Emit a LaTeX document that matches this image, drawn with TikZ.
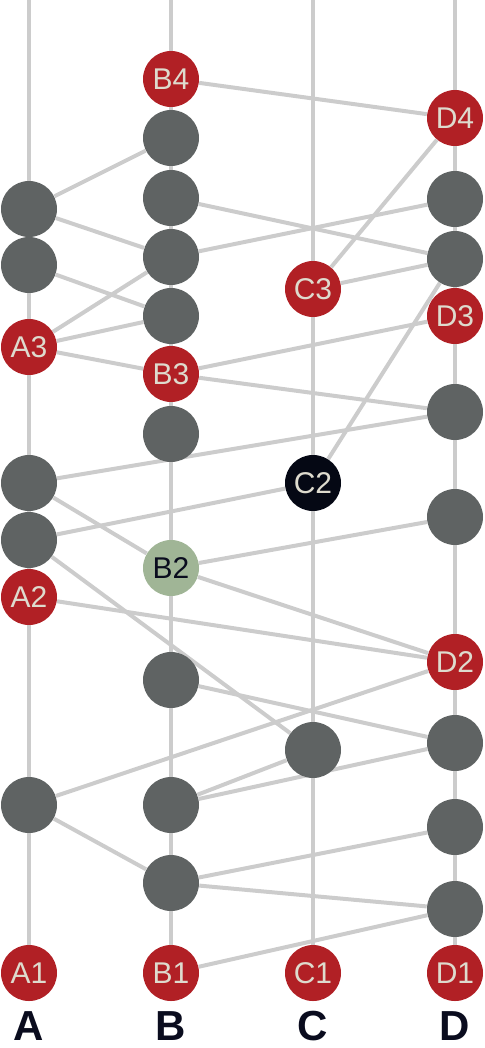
\documentclass[tikz,border=0pt]{standalone}
\usepackage{fontspec}
\setmainfont{Liberation Sans}
\usetikzlibrary{backgrounds}

\definecolor{eventred}{RGB}{177,32,37}
\definecolor{dotgray}{RGB}{95,99,99}
\definecolor{nightblack}{RGB}{5,8,20}
\definecolor{sage}{RGB}{160,181,150}
\definecolor{paletext}{RGB}{222,219,206}
\definecolor{wire}{RGB}{204,204,204}
\definecolor{ink}{RGB}{10,12,30}

\begin{document}
\begin{tikzpicture}[
    x=0.5pt, y=-0.5pt,
    dot/.style={
        circle, inner sep=0pt, minimum size=28pt,
        fill=dotgray, text=paletext,
        font=\fontsize{15}{15}\selectfont
    },
    event/.style={dot, fill=eventred},
    link/.style={draw=wire, line width=2pt},
    lane/.style={inner sep=0pt, font=\fontsize{21}{21}\selectfont\bfseries, text=ink},
]
\useasboundingbox (0,0) rectangle (485,1048);

% Spalte A
\node[dot]   (ga1) at (29,209) {};
\node[dot]   (ga2) at (29,265) {};
\node[event] (A3)  at (29,347) {A3};
\node[dot]   (ga3) at (29,483) {};
\node[dot]   (ga4) at (29,540) {};
\node[event] (A2)  at (29,597) {A2};
\node[dot]   (ga5) at (29,805) {};
\node[event] (A1)  at (29,973) {A1};

% Spalte B
\node[event] (B4)  at (171,79)  {B4};
\node[dot]   (gb1) at (171,138) {};
\node[dot]   (gb2) at (171,198) {};
\node[dot]   (gb3) at (171,257) {};
\node[dot]   (gb4) at (171,316) {};
\node[event] (B3)  at (171,374) {B3};
\node[dot]   (gb5) at (171,434) {};
\node[dot, fill=sage, text=ink] (B2) at (171,568) {B2};
\node[dot]   (gb6) at (171,680) {};
\node[dot]   (gb7) at (171,805) {};
\node[dot]   (gb8) at (171,883) {};
\node[event] (B1)  at (171,973) {B1};

% Spalte C
\node[event] (C3)  at (313,289) {C3};
\node[dot, fill=nightblack] (C2) at (313,483) {C2};
\node[dot]   (gc1) at (313,750) {};
\node[event] (C1)  at (313,973) {C1};

% Spalte D
\node[event] (D4)  at (455,118) {D4};
\node[dot]   (gd1) at (455,199) {};
\node[dot]   (gd2) at (455,259) {};
\node[event] (D3)  at (455,316) {D3};
\node[dot]   (gd3) at (455,412) {};
\node[dot]   (gd4) at (455,517) {};
\node[event] (D2)  at (455,662) {D2};
\node[dot]   (gd5) at (455,743) {};
\node[dot]   (gd6) at (455,827) {};
\node[dot]   (gd7) at (455,909) {};
\node[event] (D1)  at (455,973) {D1};

% Beschriftung
\node[lane] (labA) at (29,1026)  {A};
\node[lane] (labB) at (171,1026) {B};
\node[lane] (labC) at (313,1026) {C};
\node[lane] (labD) at (455,1026) {D};

\begin{scope}[on background layer]
% Lebenslinien
\coordinate (topA) at (29,0);
\coordinate (topB) at (171,0);
\coordinate (topC) at (313,0);
\coordinate (topD) at (455,0);
\draw[link] (topA) -- (A1);
\draw[link] (topB) -- (B1);
\draw[link] (topC) -- (C1);
\draw[link] (topD) -- (D1);

% Nachrichten
\draw[link] (B4) -- (D4);
\draw[link] (ga1) -- (gb1);
\draw[link] (ga1) -- (gb3);
\draw[link] (ga2) -- (gb4);
\draw[link] (A3) -- (gb3);
\draw[link] (A3) -- (gb4);
\draw[link] (A3) -- (B3);
\draw[link] (gb2) -- (gd2);
\draw[link] (gb3) -- (gd1);
\draw[link] (D4) -- (C3);
\draw[link] (C3) -- (gd2);
\draw[link] (gd2) -- (C2);
\draw[link] (B3) -- (D3);
\draw[link] (B3) -- (gd3);
\draw[link] (ga3) -- (gd3);
\draw[link] (ga3) -- (B2);
\draw[link] (ga4) -- (C2);
\draw[link] (ga4) -- (gc1);
\draw[link] (B2) -- (gd4);
\draw[link] (B2) -- (D2);
\draw[link] (A2) -- (D2);
\draw[link] (gb6) -- (gd5);
\draw[link] (ga5) -- (D2);
\draw[link] (ga5) -- (gb8);
\draw[link] (gb7) -- (gc1);
\draw[link] (gb7) -- (gd5);
\draw[link] (gb8) -- (gd6);
\draw[link] (gb8) -- (gd7);
\draw[link] (B1) -- (gd7);
\end{scope}
\end{tikzpicture}
\end{document}
